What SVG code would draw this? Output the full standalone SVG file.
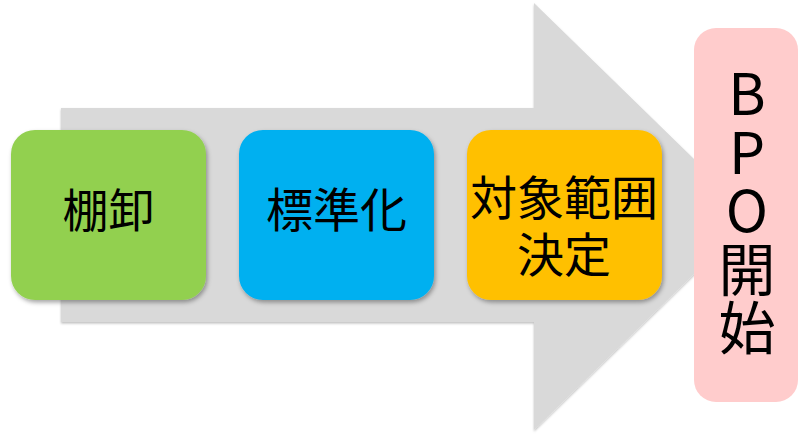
<svg xmlns="http://www.w3.org/2000/svg" width="809" height="435" viewBox="0 0 809 435">
<defs>
<filter id="sh" x="-10%" y="-10%" width="130%" height="130%">
<feDropShadow dx="1.5" dy="2.5" stdDeviation="2" flood-color="#000" flood-opacity="0.35"/>
</filter>
<filter id="ash" x="-5%" y="-5%" width="110%" height="110%">
<feDropShadow dx="0" dy="1.5" stdDeviation="1" flood-color="#000" flood-opacity="0.25"/>
</filter>
</defs>
<style>
.lbl{font-family:"Noto Sans CJK JP","Noto Sans",sans-serif;fill:#000;text-anchor:middle}
.box{filter:url(#sh)}
.vert{font-family:"Noto Sans CJK JP","Noto Sans",sans-serif;fill:#000;writing-mode:vertical-rl;text-orientation:upright}
</style>
<rect width="809" height="435" fill="#fff"/>
<g id="connectors">
<polygon id="arrow" points="61,108 534,108 534,3 753,216.5 534,430 534,322 61,322" fill="#d9d9d9" filter="url(#ash)"/>
</g>
<g id="node-tanaoroshi">
<rect class="box" x="11" y="130" width="195" height="170" rx="24" fill="#92d050"/>
<text class="lbl" x="108.5" y="227" font-size="46">棚卸</text>
</g>
<g id="node-hyojunka">
<rect class="box" x="239" y="130" width="195" height="170" rx="24" fill="#00b0f0"/>
<text class="lbl" x="336.5" y="227" font-size="47">標準化</text>
</g>
<g id="node-taisho">
<rect class="box" x="467" y="130" width="195" height="170" rx="24" fill="#ffc000"/>
<text class="lbl" x="564" y="215" font-size="47">対象範囲<tspan x="564" dy="56.5">決定</tspan></text>
</g>
<g id="node-bpo">
<rect x="694" y="28" width="104" height="374" rx="22" fill="#ffcccc"/>
<text class="vert" x="747" y="65" font-size="57" letter-spacing="1.5">BPO開始</text>
</g>
</svg>
